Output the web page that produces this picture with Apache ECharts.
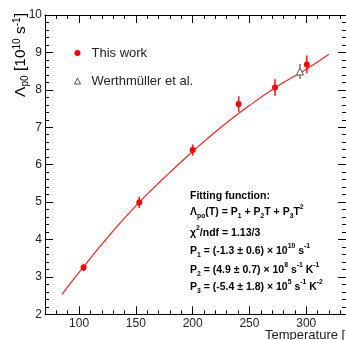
<!DOCTYPE html>
<html>
<head>
<meta charset="utf-8">
<script src="https://cdn.jsdelivr.net/npm/echarts@6/dist/echarts.min.js"></script>
<style>
  html, body { margin: 0; padding: 0; background: #fff; }
  #chart { width: 346px; height: 340px; }
</style>
</head>
<body>
<div id="chart"></div>
<script>
// measured points: [T (K), rate (1e10 s^-1), error]
const thisWork = [
  [104, 3.25, 0.10],
  [153, 4.99, 0.15],
  [200, 6.39, 0.15],
  [240.5, 7.62, 0.21],
  [272.5, 8.06, 0.22],
  [300.5, 8.68, 0.24]
]
const werthmuller = [
  [294.5, 8.49, 0.20]
]
// fit curve
const fitCurve = [
  [85, 2.53], [100, 3.12], [125, 4.05], [150, 4.9], [175, 5.65],
  [200, 6.35], [225, 7.0], [250, 7.58], [275, 8.1], [300, 8.55], [320, 8.95]
]
const xMajorTicks = [100, 150, 200, 250, 300]
const yTicks = [2, 3, 4, 5, 6, 7, 8, 9, 10]

const FONT = 'Liberation Sans, Arial, sans-serif'
const TXT = '#222'

const errorBars = (color) => (params, api) => {
  const x = api.value(0)
  const y = api.value(1)
  const e = api.value(2)
  const p1 = api.coord([x, y - e])
  const p2 = api.coord([x, y + e])
  return {
    type: 'line',
    shape: { x1: p1[0], y1: p1[1], x2: p2[0], y2: p2[1] },
    style: { stroke: color, lineWidth: 1.5 }
  }
}

const xBase = {
  type: 'value', min: 70, max: 335, gridIndex: 0,
  splitLine: { show: false },
  axisLine: { show: true, onZero: false, lineStyle: { color: '#000', width: 1 } }
}
const yBase = {
  type: 'value', min: 2, max: 10, interval: 1,
  splitLine: { show: false },
  axisLine: { show: true, onZero: false, lineStyle: { color: '#000', width: 1 } },
  axisTick: { inside: true, length: 8, lineStyle: { color: '#000' } },
  minorTick: { show: true, splitNumber: 5, length: 4, lineStyle: { color: '#000' } }
}

// rich text styles for sub/superscripts
const rich = (size, bold, lh) => ({
  n: { fontSize: size, fontWeight: bold ? 'bold' : 'normal', fontFamily: FONT, color: TXT, lineHeight: lh },
  u: { fontSize: size * 0.65, fontWeight: bold ? 'bold' : 'normal', fontFamily: FONT, color: TXT, lineHeight: 9, verticalAlign: 'top' },
  d: { fontSize: size * 0.65, fontWeight: bold ? 'bold' : 'normal', fontFamily: FONT, color: TXT, lineHeight: 9, verticalAlign: 'bottom' }
})

const boxLines = [
  ['{n|Fitting function:}', 196],
  ['{n|Λ}{d|po}{n|(T) = P}{d|1}{n| + P}{d|2}{n|T + P}{d|3}{n|T}{u|2}', 212],
  ['{n|χ}{u|2}{n|/ndf = 1.13/3}', 233],
  ['{n|P}{d|1}{n| = (-1.3 ± 0.6) × 10}{u|10}{n| s}{u|-1}', 251],
  ['{n|P}{d|2}{n| = (4.9 ± 0.7) × 10}{u|8}{n| s}{u|-1}{n| K}{u|-1}', 270],
  ['{n|P}{d|3}{n| = (-5.4 ± 1.8) × 10}{u|5}{n| s}{u|-1}{n| K}{u|-2}', 287]
]

const chart = echarts.init(document.getElementById('chart'))
chart.setOption({
  backgroundColor: '#fff',
  animation: false,
  grid: { left: 45, top: 15, width: 302, height: 299.3 },
  legend: {
    orient: 'vertical', left: 69, top: 41,
    itemWidth: 6, itemHeight: 6, itemGap: 14,
    data: [
      { name: 'This work', itemStyle: { color: '#ff0000' } },
      { name: 'Werthmüller et al.', itemStyle: { color: '#fff', borderColor: '#555', borderWidth: 1 } }
    ],
    textStyle: { fontFamily: FONT, fontSize: 13, color: TXT, lineHeight: 14, padding: [0, 0, 0, 6] }
  },
  xAxis: [
    Object.assign({}, xBase, {
      position: 'bottom',
      axisTick: { inside: true, length: 8, customValues: xMajorTicks, lineStyle: { color: '#000' } },
      axisLabel: { customValues: xMajorTicks, fontFamily: FONT, fontSize: 12, color: TXT, margin: 3 }
    }),
    Object.assign({}, xBase, {
      position: 'bottom', interval: 10,
      axisLine: { show: false },
      axisTick: { inside: true, length: 4, lineStyle: { color: '#000' } },
      axisLabel: { show: false }
    }),
    Object.assign({}, xBase, {
      position: 'top',
      axisTick: { inside: true, length: 8, customValues: xMajorTicks, lineStyle: { color: '#000' } },
      axisLabel: { show: false }
    }),
    Object.assign({}, xBase, {
      position: 'top', interval: 10,
      axisLine: { show: false },
      axisTick: { inside: true, length: 4, lineStyle: { color: '#000' } },
      axisLabel: { show: false }
    })
  ],
  yAxis: [
    Object.assign({}, yBase, {
      position: 'left',
      axisLabel: { fontFamily: FONT, fontSize: 12, color: TXT, margin: 3,
        formatter: (v) => yTicks.includes(v) ? String(v) : '' }
    }),
    Object.assign({}, yBase, { position: 'right', axisLabel: { show: false } })
  ],
  graphic: [
    {
      type: 'text', x: 21, y: 13, rotation: Math.PI / 2,
      style: {
        text: '{n|Λ}{d|p0}{n| [10}{u|10}{n| s}{u|-1}{n|]}',
        rich: rich(15.5, false, 18), align: 'right', verticalAlign: 'middle'
      }
    },
    {
      type: 'text', x: 265, y: 335,
      style: { text: 'Temperature [K]', font: '13px ' + FONT, fill: TXT, verticalAlign: 'middle' }
    }
  ].concat(boxLines.map(([t, y]) => ({
    type: 'text', x: 190, y: y,
    style: { text: t, rich: rich(10.5, true, 16), verticalAlign: 'middle' }
  }))),
  series: [
    {
      name: 'fit', type: 'line', data: fitCurve, smooth: true, symbol: 'none',
      lineStyle: { color: '#ff2020', width: 1.2 }, z: 1
    },
    {
      name: 'This work err', type: 'custom', data: thisWork,
      encode: { x: 0, y: 1 }, renderItem: errorBars('#ff1010'), z: 2
    },
    {
      name: 'Werthmüller err', type: 'custom', data: werthmuller,
      encode: { x: 0, y: 1 }, renderItem: errorBars('#777'), z: 2
    },
    {
      name: 'This work', type: 'scatter', data: thisWork.map(d => [d[0], d[1]]),
      symbol: 'circle', symbolSize: 6, itemStyle: { color: '#ff0000', opacity: 1 }, z: 3
    },
    {
      name: 'Werthmüller et al.', type: 'scatter', data: werthmuller.map(d => [d[0], d[1]]),
      symbol: 'triangle', symbolSize: 7,
      itemStyle: { color: '#fff', borderColor: '#555', borderWidth: 1, opacity: 1 }, z: 3
    }
  ]
})
</script>
</body>
</html>
